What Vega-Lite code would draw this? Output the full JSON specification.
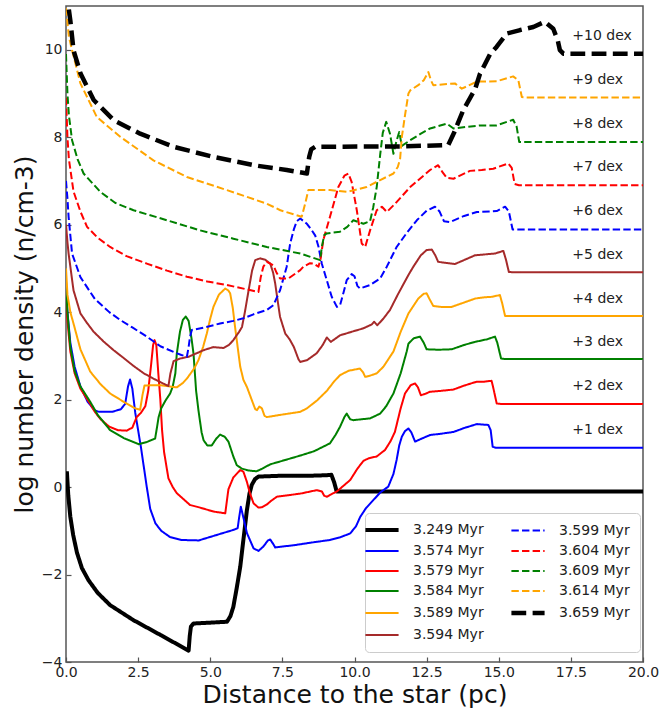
{
  "$schema": "https://vega.github.io/schema/vega-lite/v6.json",
  "autosize": {"type": "none"},
  "width": 577,
  "height": 656,
  "padding": {"left": 66, "top": 6, "right": 18, "bottom": 50},
  "background": "white",
  "config": {
    "view": {"stroke": "#555", "strokeWidth": 1.5},
    "font": "DejaVu Sans",
    "axis": {
      "domain": false,
      "grid": false,
      "tickSize": -5,
      "tickColor": "#555",
      "tickWidth": 1.2,
      "labelFlush": false,
      "labelFont": "DejaVu Sans",
      "labelFontSize": 14,
      "labelColor": "#222",
      "titleFont": "DejaVu Sans",
      "titleFontSize": 25,
      "titleFontWeight": "normal",
      "titleColor": "#111"
    },
    "legend": {
      "labelFont": "DejaVu Sans",
      "labelFontSize": 14,
      "labelColor": "#222"
    }
  },
  "datasets": {
    "profiles": [
      {"series": "3.249 Myr", "x": 0.03, "y": 0.36}, {"series": "3.249 Myr", "x": 0.08, "y": -0.2}, {"series": "3.249 Myr", "x": 0.15, "y": -0.68}, {"series": "3.249 Myr", "x": 0.25, "y": -1.1}, {"series": "3.249 Myr", "x": 0.38, "y": -1.5}, {"series": "3.249 Myr", "x": 0.55, "y": -1.85}, {"series": "3.249 Myr", "x": 0.78, "y": -2.13}, {"series": "3.249 Myr", "x": 1.1, "y": -2.42}, {"series": "3.249 Myr", "x": 1.53, "y": -2.7}, {"series": "3.249 Myr", "x": 2.33, "y": -3.04}, {"series": "3.249 Myr", "x": 3.27, "y": -3.38}, {"series": "3.249 Myr", "x": 4.25, "y": -3.74}, {"series": "3.249 Myr", "x": 4.29, "y": -3.4}, {"series": "3.249 Myr", "x": 4.33, "y": -3.19}, {"series": "3.249 Myr", "x": 4.42, "y": -3.12}, {"series": "3.249 Myr", "x": 5.0, "y": -3.1}, {"series": "3.249 Myr", "x": 5.58, "y": -3.08}, {"series": "3.249 Myr", "x": 5.7, "y": -2.95}, {"series": "3.249 Myr", "x": 5.8, "y": -2.74}, {"series": "3.249 Myr", "x": 5.92, "y": -2.3}, {"series": "3.249 Myr", "x": 6.04, "y": -1.82}, {"series": "3.249 Myr", "x": 6.15, "y": -1.2}, {"series": "3.249 Myr", "x": 6.27, "y": -0.53}, {"series": "3.249 Myr", "x": 6.36, "y": -0.15}, {"series": "3.249 Myr", "x": 6.44, "y": 0.05}, {"series": "3.249 Myr", "x": 6.55, "y": 0.18}, {"series": "3.249 Myr", "x": 6.67, "y": 0.24}, {"series": "3.249 Myr", "x": 7.5, "y": 0.26}, {"series": "3.249 Myr", "x": 8.5, "y": 0.26}, {"series": "3.249 Myr", "x": 9.0, "y": 0.27}, {"series": "3.249 Myr", "x": 9.2, "y": 0.28}, {"series": "3.249 Myr", "x": 9.3, "y": 0.1}, {"series": "3.249 Myr", "x": 9.38, "y": -0.1}, {"series": "3.249 Myr", "x": 20, "y": -0.1},

      {"series": "3.574 Myr", "x": 0.0, "y": 4.6}, {"series": "3.574 Myr", "x": 0.05, "y": 4.0}, {"series": "3.574 Myr", "x": 0.15, "y": 3.3}, {"series": "3.574 Myr", "x": 0.3, "y": 2.75}, {"series": "3.574 Myr", "x": 0.5, "y": 2.3}, {"series": "3.574 Myr", "x": 0.75, "y": 1.95}, {"series": "3.574 Myr", "x": 1.0, "y": 1.75}, {"series": "3.574 Myr", "x": 1.15, "y": 1.72}, {"series": "3.574 Myr", "x": 1.6, "y": 1.72}, {"series": "3.574 Myr", "x": 1.9, "y": 1.78}, {"series": "3.574 Myr", "x": 2.05, "y": 1.9}, {"series": "3.574 Myr", "x": 2.15, "y": 2.3}, {"series": "3.574 Myr", "x": 2.22, "y": 2.46}, {"series": "3.574 Myr", "x": 2.3, "y": 2.25}, {"series": "3.574 Myr", "x": 2.4, "y": 1.7}, {"series": "3.574 Myr", "x": 2.5, "y": 1.3}, {"series": "3.574 Myr", "x": 2.6, "y": 0.9}, {"series": "3.574 Myr", "x": 2.7, "y": 0.45}, {"series": "3.574 Myr", "x": 2.8, "y": 0.0}, {"series": "3.574 Myr", "x": 2.92, "y": -0.5}, {"series": "3.574 Myr", "x": 3.1, "y": -0.83}, {"series": "3.574 Myr", "x": 3.3, "y": -1.0}, {"series": "3.574 Myr", "x": 3.6, "y": -1.14}, {"series": "3.574 Myr", "x": 4.0, "y": -1.21}, {"series": "3.574 Myr", "x": 4.6, "y": -1.22}, {"series": "3.574 Myr", "x": 5.2, "y": -1.1}, {"series": "3.574 Myr", "x": 5.8, "y": -0.98}, {"series": "3.574 Myr", "x": 5.95, "y": -0.94}, {"series": "3.574 Myr", "x": 6.0, "y": -0.7}, {"series": "3.574 Myr", "x": 6.06, "y": -0.45}, {"series": "3.574 Myr", "x": 6.15, "y": -0.7}, {"series": "3.574 Myr", "x": 6.27, "y": -1.05}, {"series": "3.574 Myr", "x": 6.5, "y": -1.4}, {"series": "3.574 Myr", "x": 6.67, "y": -1.46}, {"series": "3.574 Myr", "x": 6.84, "y": -1.36}, {"series": "3.574 Myr", "x": 7.0, "y": -1.22}, {"series": "3.574 Myr", "x": 7.08, "y": -1.2}, {"series": "3.574 Myr", "x": 7.18, "y": -1.3}, {"series": "3.574 Myr", "x": 7.25, "y": -1.38}, {"series": "3.574 Myr", "x": 7.5, "y": -1.36}, {"series": "3.574 Myr", "x": 7.9, "y": -1.33}, {"series": "3.574 Myr", "x": 8.5, "y": -1.27}, {"series": "3.574 Myr", "x": 9.15, "y": -1.21}, {"series": "3.574 Myr", "x": 9.5, "y": -1.15}, {"series": "3.574 Myr", "x": 9.85, "y": -1.06}, {"series": "3.574 Myr", "x": 10.05, "y": -0.9}, {"series": "3.574 Myr", "x": 10.2, "y": -0.68}, {"series": "3.574 Myr", "x": 10.4, "y": -0.48}, {"series": "3.574 Myr", "x": 10.65, "y": -0.3}, {"series": "3.574 Myr", "x": 10.9, "y": -0.12}, {"series": "3.574 Myr", "x": 11.17, "y": 0.01}, {"series": "3.574 Myr", "x": 11.35, "y": 0.3}, {"series": "3.574 Myr", "x": 11.46, "y": 0.62}, {"series": "3.574 Myr", "x": 11.55, "y": 0.95}, {"series": "3.574 Myr", "x": 11.64, "y": 1.15}, {"series": "3.574 Myr", "x": 11.75, "y": 1.28}, {"series": "3.574 Myr", "x": 11.87, "y": 1.34}, {"series": "3.574 Myr", "x": 11.97, "y": 1.25}, {"series": "3.574 Myr", "x": 12.1, "y": 1.04}, {"series": "3.574 Myr", "x": 12.3, "y": 1.1}, {"series": "3.574 Myr", "x": 12.62, "y": 1.19}, {"series": "3.574 Myr", "x": 13.0, "y": 1.22}, {"series": "3.574 Myr", "x": 13.43, "y": 1.26}, {"series": "3.574 Myr", "x": 13.8, "y": 1.35}, {"series": "3.574 Myr", "x": 14.24, "y": 1.44}, {"series": "3.574 Myr", "x": 14.64, "y": 1.42}, {"series": "3.574 Myr", "x": 14.72, "y": 1.3}, {"series": "3.574 Myr", "x": 14.79, "y": 0.92}, {"series": "3.574 Myr", "x": 14.9, "y": 0.9}, {"series": "3.574 Myr", "x": 20, "y": 0.9},

      {"series": "3.579 Myr", "x": 0.0, "y": 4.4}, {"series": "3.579 Myr", "x": 0.05, "y": 3.8}, {"series": "3.579 Myr", "x": 0.15, "y": 3.1}, {"series": "3.579 Myr", "x": 0.3, "y": 2.6}, {"series": "3.579 Myr", "x": 0.5, "y": 2.25}, {"series": "3.579 Myr", "x": 0.84, "y": 1.9}, {"series": "3.579 Myr", "x": 1.0, "y": 1.72}, {"series": "3.579 Myr", "x": 1.2, "y": 1.55}, {"series": "3.579 Myr", "x": 1.5, "y": 1.38}, {"series": "3.579 Myr", "x": 1.8, "y": 1.3}, {"series": "3.579 Myr", "x": 2.11, "y": 1.29}, {"series": "3.579 Myr", "x": 2.3, "y": 1.36}, {"series": "3.579 Myr", "x": 2.45, "y": 1.6}, {"series": "3.579 Myr", "x": 2.6, "y": 1.7}, {"series": "3.579 Myr", "x": 2.75, "y": 1.85}, {"series": "3.579 Myr", "x": 2.85, "y": 2.2}, {"series": "3.579 Myr", "x": 2.95, "y": 2.8}, {"series": "3.579 Myr", "x": 3.02, "y": 3.25}, {"series": "3.579 Myr", "x": 3.07, "y": 3.36}, {"series": "3.579 Myr", "x": 3.13, "y": 3.25}, {"series": "3.579 Myr", "x": 3.2, "y": 2.6}, {"series": "3.579 Myr", "x": 3.27, "y": 2.0}, {"series": "3.579 Myr", "x": 3.33, "y": 1.3}, {"series": "3.579 Myr", "x": 3.4, "y": 0.8}, {"series": "3.579 Myr", "x": 3.55, "y": 0.2}, {"series": "3.579 Myr", "x": 3.7, "y": 0.0}, {"series": "3.579 Myr", "x": 3.84, "y": -0.14}, {"series": "3.579 Myr", "x": 4.3, "y": -0.41}, {"series": "3.579 Myr", "x": 4.65, "y": -0.47}, {"series": "3.579 Myr", "x": 5.11, "y": -0.56}, {"series": "3.579 Myr", "x": 5.52, "y": -0.6}, {"series": "3.579 Myr", "x": 5.58, "y": -0.3}, {"series": "3.579 Myr", "x": 5.63, "y": -0.05}, {"series": "3.579 Myr", "x": 5.8, "y": 0.22}, {"series": "3.579 Myr", "x": 6.04, "y": 0.39}, {"series": "3.579 Myr", "x": 6.15, "y": 0.35}, {"series": "3.579 Myr", "x": 6.27, "y": 0.12}, {"series": "3.579 Myr", "x": 6.38, "y": -0.15}, {"series": "3.579 Myr", "x": 6.5, "y": -0.37}, {"series": "3.579 Myr", "x": 6.67, "y": -0.47}, {"series": "3.579 Myr", "x": 6.8, "y": -0.46}, {"series": "3.579 Myr", "x": 6.96, "y": -0.4}, {"series": "3.579 Myr", "x": 7.1, "y": -0.32}, {"series": "3.579 Myr", "x": 7.31, "y": -0.22}, {"series": "3.579 Myr", "x": 8.12, "y": -0.15}, {"series": "3.579 Myr", "x": 8.69, "y": -0.07}, {"series": "3.579 Myr", "x": 8.87, "y": -0.1}, {"series": "3.579 Myr", "x": 8.95, "y": -0.2}, {"series": "3.579 Myr", "x": 9.05, "y": -0.22}, {"series": "3.579 Myr", "x": 9.15, "y": -0.18}, {"series": "3.579 Myr", "x": 9.39, "y": -0.1}, {"series": "3.579 Myr", "x": 9.6, "y": 0.02}, {"series": "3.579 Myr", "x": 9.85, "y": 0.16}, {"series": "3.579 Myr", "x": 10.1, "y": 0.42}, {"series": "3.579 Myr", "x": 10.31, "y": 0.6}, {"series": "3.579 Myr", "x": 10.5, "y": 0.66}, {"series": "3.579 Myr", "x": 10.77, "y": 0.7}, {"series": "3.579 Myr", "x": 11.06, "y": 0.85}, {"series": "3.579 Myr", "x": 11.25, "y": 1.05}, {"series": "3.579 Myr", "x": 11.4, "y": 1.26}, {"series": "3.579 Myr", "x": 11.6, "y": 1.8}, {"series": "3.579 Myr", "x": 11.75, "y": 2.14}, {"series": "3.579 Myr", "x": 11.95, "y": 2.33}, {"series": "3.579 Myr", "x": 12.1, "y": 2.37}, {"series": "3.579 Myr", "x": 12.2, "y": 2.28}, {"series": "3.579 Myr", "x": 12.3, "y": 2.1}, {"series": "3.579 Myr", "x": 12.45, "y": 2.13}, {"series": "3.579 Myr", "x": 12.62, "y": 2.18}, {"series": "3.579 Myr", "x": 13.0, "y": 2.2}, {"series": "3.579 Myr", "x": 13.43, "y": 2.23}, {"series": "3.579 Myr", "x": 13.8, "y": 2.32}, {"series": "3.579 Myr", "x": 14.24, "y": 2.41}, {"series": "3.579 Myr", "x": 14.5, "y": 2.41}, {"series": "3.579 Myr", "x": 14.75, "y": 2.43}, {"series": "3.579 Myr", "x": 14.8, "y": 2.3}, {"series": "3.579 Myr", "x": 14.93, "y": 1.91}, {"series": "3.579 Myr", "x": 15.1, "y": 1.9}, {"series": "3.579 Myr", "x": 20, "y": 1.9},

      {"series": "3.584 Myr", "x": 0.0, "y": 4.7}, {"series": "3.584 Myr", "x": 0.05, "y": 4.0}, {"series": "3.584 Myr", "x": 0.15, "y": 3.2}, {"series": "3.584 Myr", "x": 0.3, "y": 2.65}, {"series": "3.584 Myr", "x": 0.5, "y": 2.3}, {"series": "3.584 Myr", "x": 0.84, "y": 1.95}, {"series": "3.584 Myr", "x": 1.1, "y": 1.65}, {"series": "3.584 Myr", "x": 1.53, "y": 1.3}, {"series": "3.584 Myr", "x": 2.0, "y": 1.12}, {"series": "3.584 Myr", "x": 2.52, "y": 0.98}, {"series": "3.584 Myr", "x": 2.8, "y": 1.03}, {"series": "3.584 Myr", "x": 3.09, "y": 1.11}, {"series": "3.584 Myr", "x": 3.15, "y": 1.35}, {"series": "3.584 Myr", "x": 3.21, "y": 1.6}, {"series": "3.584 Myr", "x": 3.3, "y": 1.8}, {"series": "3.584 Myr", "x": 3.45, "y": 1.98}, {"series": "3.584 Myr", "x": 3.61, "y": 2.14}, {"series": "3.584 Myr", "x": 3.7, "y": 2.3}, {"series": "3.584 Myr", "x": 3.79, "y": 2.6}, {"series": "3.584 Myr", "x": 3.84, "y": 3.05}, {"series": "3.584 Myr", "x": 3.95, "y": 3.55}, {"series": "3.584 Myr", "x": 4.05, "y": 3.82}, {"series": "3.584 Myr", "x": 4.15, "y": 3.9}, {"series": "3.584 Myr", "x": 4.25, "y": 3.8}, {"series": "3.584 Myr", "x": 4.35, "y": 3.4}, {"series": "3.584 Myr", "x": 4.42, "y": 3.05}, {"series": "3.584 Myr", "x": 4.51, "y": 2.2}, {"series": "3.584 Myr", "x": 4.59, "y": 1.76}, {"series": "3.584 Myr", "x": 4.7, "y": 1.25}, {"series": "3.584 Myr", "x": 4.77, "y": 1.07}, {"series": "3.584 Myr", "x": 4.9, "y": 0.95}, {"series": "3.584 Myr", "x": 5.05, "y": 0.95}, {"series": "3.584 Myr", "x": 5.2, "y": 1.1}, {"series": "3.584 Myr", "x": 5.34, "y": 1.2}, {"series": "3.584 Myr", "x": 5.5, "y": 1.15}, {"series": "3.584 Myr", "x": 5.63, "y": 1.04}, {"series": "3.584 Myr", "x": 5.8, "y": 0.7}, {"series": "3.584 Myr", "x": 5.92, "y": 0.5}, {"series": "3.584 Myr", "x": 6.1, "y": 0.42}, {"series": "3.584 Myr", "x": 6.33, "y": 0.38}, {"series": "3.584 Myr", "x": 6.6, "y": 0.36}, {"series": "3.584 Myr", "x": 6.8, "y": 0.42}, {"series": "3.584 Myr", "x": 7.08, "y": 0.52}, {"series": "3.584 Myr", "x": 7.5, "y": 0.6}, {"series": "3.584 Myr", "x": 8.12, "y": 0.72}, {"series": "3.584 Myr", "x": 8.6, "y": 0.82}, {"series": "3.584 Myr", "x": 9.15, "y": 1.0}, {"series": "3.584 Myr", "x": 9.35, "y": 1.2}, {"series": "3.584 Myr", "x": 9.5, "y": 1.38}, {"series": "3.584 Myr", "x": 9.65, "y": 1.6}, {"series": "3.584 Myr", "x": 9.73, "y": 1.68}, {"series": "3.584 Myr", "x": 9.85, "y": 1.55}, {"series": "3.584 Myr", "x": 9.95, "y": 1.53}, {"series": "3.584 Myr", "x": 10.54, "y": 1.57}, {"series": "3.584 Myr", "x": 10.89, "y": 1.68}, {"series": "3.584 Myr", "x": 11.1, "y": 1.85}, {"series": "3.584 Myr", "x": 11.35, "y": 2.14}, {"series": "3.584 Myr", "x": 11.6, "y": 2.6}, {"series": "3.584 Myr", "x": 11.81, "y": 3.1}, {"series": "3.584 Myr", "x": 11.87, "y": 3.28}, {"series": "3.584 Myr", "x": 12.05, "y": 3.4}, {"series": "3.584 Myr", "x": 12.27, "y": 3.44}, {"series": "3.584 Myr", "x": 12.4, "y": 3.3}, {"series": "3.584 Myr", "x": 12.5, "y": 3.15}, {"series": "3.584 Myr", "x": 12.9, "y": 3.14}, {"series": "3.584 Myr", "x": 13.37, "y": 3.15}, {"series": "3.584 Myr", "x": 13.8, "y": 3.25}, {"series": "3.584 Myr", "x": 14.18, "y": 3.32}, {"series": "3.584 Myr", "x": 14.6, "y": 3.38}, {"series": "3.584 Myr", "x": 14.87, "y": 3.44}, {"series": "3.584 Myr", "x": 14.95, "y": 3.3}, {"series": "3.584 Myr", "x": 15.08, "y": 2.94}, {"series": "3.584 Myr", "x": 15.2, "y": 2.93}, {"series": "3.584 Myr", "x": 20, "y": 2.93},

      {"series": "3.589 Myr", "x": 0.0, "y": 5.0}, {"series": "3.589 Myr", "x": 0.05, "y": 4.4}, {"series": "3.589 Myr", "x": 0.15, "y": 4.0}, {"series": "3.589 Myr", "x": 0.26, "y": 3.74}, {"series": "3.589 Myr", "x": 0.5, "y": 3.15}, {"series": "3.589 Myr", "x": 0.84, "y": 2.64}, {"series": "3.589 Myr", "x": 1.2, "y": 2.35}, {"series": "3.589 Myr", "x": 1.53, "y": 2.14}, {"series": "3.589 Myr", "x": 2.0, "y": 1.95}, {"series": "3.589 Myr", "x": 2.4, "y": 1.8}, {"series": "3.589 Myr", "x": 2.57, "y": 1.77}, {"series": "3.589 Myr", "x": 2.65, "y": 2.1}, {"series": "3.589 Myr", "x": 2.72, "y": 2.32}, {"series": "3.589 Myr", "x": 3.0, "y": 2.33}, {"series": "3.589 Myr", "x": 3.27, "y": 2.33}, {"series": "3.589 Myr", "x": 3.6, "y": 2.3}, {"series": "3.589 Myr", "x": 3.84, "y": 2.28}, {"series": "3.589 Myr", "x": 4.05, "y": 2.38}, {"series": "3.589 Myr", "x": 4.19, "y": 2.48}, {"series": "3.589 Myr", "x": 4.3, "y": 2.58}, {"series": "3.589 Myr", "x": 4.45, "y": 2.72}, {"series": "3.589 Myr", "x": 4.59, "y": 2.9}, {"series": "3.589 Myr", "x": 4.75, "y": 3.2}, {"series": "3.589 Myr", "x": 4.88, "y": 3.51}, {"series": "3.589 Myr", "x": 5.0, "y": 3.85}, {"series": "3.589 Myr", "x": 5.11, "y": 4.12}, {"series": "3.589 Myr", "x": 5.3, "y": 4.4}, {"series": "3.589 Myr", "x": 5.52, "y": 4.54}, {"series": "3.589 Myr", "x": 5.62, "y": 4.5}, {"series": "3.589 Myr", "x": 5.69, "y": 4.43}, {"series": "3.589 Myr", "x": 5.78, "y": 4.1}, {"series": "3.589 Myr", "x": 5.86, "y": 3.66}, {"series": "3.589 Myr", "x": 5.95, "y": 3.2}, {"series": "3.589 Myr", "x": 6.04, "y": 2.75}, {"series": "3.589 Myr", "x": 6.15, "y": 2.45}, {"series": "3.589 Myr", "x": 6.27, "y": 2.29}, {"series": "3.589 Myr", "x": 6.44, "y": 1.99}, {"series": "3.589 Myr", "x": 6.56, "y": 1.78}, {"series": "3.589 Myr", "x": 6.62, "y": 1.76}, {"series": "3.589 Myr", "x": 6.7, "y": 1.84}, {"series": "3.589 Myr", "x": 6.79, "y": 1.8}, {"series": "3.589 Myr", "x": 6.88, "y": 1.63}, {"series": "3.589 Myr", "x": 6.96, "y": 1.6}, {"series": "3.589 Myr", "x": 7.42, "y": 1.65}, {"series": "3.589 Myr", "x": 8.12, "y": 1.72}, {"series": "3.589 Myr", "x": 8.35, "y": 1.8}, {"series": "3.589 Myr", "x": 8.7, "y": 1.98}, {"series": "3.589 Myr", "x": 9.04, "y": 2.2}, {"series": "3.589 Myr", "x": 9.3, "y": 2.42}, {"series": "3.589 Myr", "x": 9.5, "y": 2.56}, {"series": "3.589 Myr", "x": 9.8, "y": 2.66}, {"series": "3.589 Myr", "x": 10.19, "y": 2.71}, {"series": "3.589 Myr", "x": 10.3, "y": 2.62}, {"series": "3.589 Myr", "x": 10.37, "y": 2.52}, {"series": "3.589 Myr", "x": 10.55, "y": 2.55}, {"series": "3.589 Myr", "x": 10.77, "y": 2.6}, {"series": "3.589 Myr", "x": 11.0, "y": 2.75}, {"series": "3.589 Myr", "x": 11.2, "y": 2.95}, {"series": "3.589 Myr", "x": 11.35, "y": 3.1}, {"series": "3.589 Myr", "x": 11.6, "y": 3.55}, {"series": "3.589 Myr", "x": 11.87, "y": 3.97}, {"series": "3.589 Myr", "x": 12.21, "y": 4.31}, {"series": "3.589 Myr", "x": 12.4, "y": 4.42}, {"series": "3.589 Myr", "x": 12.5, "y": 4.43}, {"series": "3.589 Myr", "x": 12.6, "y": 4.3}, {"series": "3.589 Myr", "x": 12.73, "y": 4.14}, {"series": "3.589 Myr", "x": 13.0, "y": 4.12}, {"series": "3.589 Myr", "x": 13.37, "y": 4.12}, {"series": "3.589 Myr", "x": 13.8, "y": 4.22}, {"series": "3.589 Myr", "x": 14.18, "y": 4.31}, {"series": "3.589 Myr", "x": 14.5, "y": 4.34}, {"series": "3.589 Myr", "x": 14.75, "y": 4.35}, {"series": "3.589 Myr", "x": 15.04, "y": 4.39}, {"series": "3.589 Myr", "x": 15.12, "y": 4.2}, {"series": "3.589 Myr", "x": 15.22, "y": 3.91}, {"series": "3.589 Myr", "x": 15.4, "y": 3.91}, {"series": "3.589 Myr", "x": 20, "y": 3.91},

      {"series": "3.594 Myr", "x": 0.0, "y": 6.0}, {"series": "3.594 Myr", "x": 0.05, "y": 5.6}, {"series": "3.594 Myr", "x": 0.09, "y": 5.34}, {"series": "3.594 Myr", "x": 0.26, "y": 4.5}, {"series": "3.594 Myr", "x": 0.5, "y": 3.97}, {"series": "3.594 Myr", "x": 0.73, "y": 3.75}, {"series": "3.594 Myr", "x": 0.96, "y": 3.55}, {"series": "3.594 Myr", "x": 1.3, "y": 3.33}, {"series": "3.594 Myr", "x": 1.65, "y": 3.13}, {"series": "3.594 Myr", "x": 2.0, "y": 2.95}, {"series": "3.594 Myr", "x": 2.34, "y": 2.77}, {"series": "3.594 Myr", "x": 2.7, "y": 2.6}, {"series": "3.594 Myr", "x": 3.03, "y": 2.48}, {"series": "3.594 Myr", "x": 3.3, "y": 2.39}, {"series": "3.594 Myr", "x": 3.55, "y": 2.31}, {"series": "3.594 Myr", "x": 3.62, "y": 2.6}, {"series": "3.594 Myr", "x": 3.73, "y": 2.88}, {"series": "3.594 Myr", "x": 3.96, "y": 2.94}, {"series": "3.594 Myr", "x": 4.25, "y": 2.98}, {"series": "3.594 Myr", "x": 4.77, "y": 3.13}, {"series": "3.594 Myr", "x": 5.1, "y": 3.2}, {"series": "3.594 Myr", "x": 5.46, "y": 3.18}, {"series": "3.594 Myr", "x": 5.65, "y": 3.25}, {"series": "3.594 Myr", "x": 5.8, "y": 3.36}, {"series": "3.594 Myr", "x": 6.0, "y": 3.55}, {"series": "3.594 Myr", "x": 6.1, "y": 3.66}, {"series": "3.594 Myr", "x": 6.2, "y": 4.0}, {"series": "3.594 Myr", "x": 6.33, "y": 4.5}, {"series": "3.594 Myr", "x": 6.45, "y": 4.95}, {"series": "3.594 Myr", "x": 6.56, "y": 5.19}, {"series": "3.594 Myr", "x": 6.73, "y": 5.23}, {"series": "3.594 Myr", "x": 6.9, "y": 5.2}, {"series": "3.594 Myr", "x": 7.08, "y": 5.11}, {"series": "3.594 Myr", "x": 7.18, "y": 4.9}, {"series": "3.594 Myr", "x": 7.25, "y": 4.66}, {"series": "3.594 Myr", "x": 7.35, "y": 4.2}, {"series": "3.594 Myr", "x": 7.42, "y": 3.89}, {"series": "3.594 Myr", "x": 7.6, "y": 3.51}, {"series": "3.594 Myr", "x": 7.75, "y": 3.38}, {"series": "3.594 Myr", "x": 7.9, "y": 3.2}, {"series": "3.594 Myr", "x": 8.06, "y": 2.92}, {"series": "3.594 Myr", "x": 8.12, "y": 2.86}, {"series": "3.594 Myr", "x": 8.35, "y": 2.9}, {"series": "3.594 Myr", "x": 8.69, "y": 3.06}, {"series": "3.594 Myr", "x": 8.9, "y": 3.25}, {"series": "3.594 Myr", "x": 9.04, "y": 3.42}, {"series": "3.594 Myr", "x": 9.18, "y": 3.32}, {"series": "3.594 Myr", "x": 9.5, "y": 3.47}, {"series": "3.594 Myr", "x": 9.9, "y": 3.55}, {"series": "3.594 Myr", "x": 10.31, "y": 3.63}, {"series": "3.594 Myr", "x": 10.6, "y": 3.72}, {"series": "3.594 Myr", "x": 10.68, "y": 3.78}, {"series": "3.594 Myr", "x": 10.79, "y": 3.7}, {"series": "3.594 Myr", "x": 11.0, "y": 3.85}, {"series": "3.594 Myr", "x": 11.23, "y": 4.05}, {"series": "3.594 Myr", "x": 11.5, "y": 4.4}, {"series": "3.594 Myr", "x": 11.87, "y": 4.85}, {"series": "3.594 Myr", "x": 12.04, "y": 5.04}, {"series": "3.594 Myr", "x": 12.3, "y": 5.3}, {"series": "3.594 Myr", "x": 12.5, "y": 5.42}, {"series": "3.594 Myr", "x": 12.68, "y": 5.43}, {"series": "3.594 Myr", "x": 12.8, "y": 5.3}, {"series": "3.594 Myr", "x": 12.9, "y": 5.15}, {"series": "3.594 Myr", "x": 13.48, "y": 5.1}, {"series": "3.594 Myr", "x": 14.18, "y": 5.3}, {"series": "3.594 Myr", "x": 14.87, "y": 5.34}, {"series": "3.594 Myr", "x": 15.16, "y": 5.4}, {"series": "3.594 Myr", "x": 15.25, "y": 5.2}, {"series": "3.594 Myr", "x": 15.35, "y": 4.92}, {"series": "3.594 Myr", "x": 15.5, "y": 4.91}, {"series": "3.594 Myr", "x": 20, "y": 4.91},

      {"series": "3.599 Myr", "x": 0.0, "y": 7.0}, {"series": "3.599 Myr", "x": 0.05, "y": 6.6}, {"series": "3.599 Myr", "x": 0.09, "y": 6.18}, {"series": "3.599 Myr", "x": 0.21, "y": 5.34}, {"series": "3.599 Myr", "x": 0.5, "y": 4.8}, {"series": "3.599 Myr", "x": 1.0, "y": 4.3}, {"series": "3.599 Myr", "x": 1.5, "y": 4.0}, {"series": "3.599 Myr", "x": 1.88, "y": 3.82}, {"series": "3.599 Myr", "x": 2.3, "y": 3.65}, {"series": "3.599 Myr", "x": 2.8, "y": 3.44}, {"series": "3.599 Myr", "x": 3.27, "y": 3.22}, {"series": "3.599 Myr", "x": 3.73, "y": 3.09}, {"series": "3.599 Myr", "x": 4.0, "y": 3.02}, {"series": "3.599 Myr", "x": 4.19, "y": 2.98}, {"series": "3.599 Myr", "x": 4.25, "y": 3.2}, {"series": "3.599 Myr", "x": 4.3, "y": 3.44}, {"series": "3.599 Myr", "x": 4.36, "y": 3.59}, {"series": "3.599 Myr", "x": 4.8, "y": 3.65}, {"series": "3.599 Myr", "x": 5.34, "y": 3.74}, {"series": "3.599 Myr", "x": 5.8, "y": 3.8}, {"series": "3.599 Myr", "x": 6.15, "y": 3.86}, {"series": "3.599 Myr", "x": 6.5, "y": 3.95}, {"series": "3.599 Myr", "x": 6.96, "y": 4.05}, {"series": "3.599 Myr", "x": 7.19, "y": 4.16}, {"series": "3.599 Myr", "x": 7.42, "y": 4.5}, {"series": "3.599 Myr", "x": 7.65, "y": 5.04}, {"series": "3.599 Myr", "x": 7.77, "y": 5.57}, {"series": "3.599 Myr", "x": 7.9, "y": 5.9}, {"series": "3.599 Myr", "x": 8.0, "y": 6.08}, {"series": "3.599 Myr", "x": 8.12, "y": 6.14}, {"series": "3.599 Myr", "x": 8.35, "y": 6.02}, {"series": "3.599 Myr", "x": 8.52, "y": 5.87}, {"series": "3.599 Myr", "x": 8.64, "y": 5.75}, {"series": "3.599 Myr", "x": 8.75, "y": 5.5}, {"series": "3.599 Myr", "x": 8.87, "y": 5.1}, {"series": "3.599 Myr", "x": 9.04, "y": 4.73}, {"series": "3.599 Myr", "x": 9.21, "y": 4.35}, {"series": "3.599 Myr", "x": 9.39, "y": 4.12}, {"series": "3.599 Myr", "x": 9.5, "y": 4.16}, {"series": "3.599 Myr", "x": 9.62, "y": 4.45}, {"series": "3.599 Myr", "x": 9.73, "y": 4.73}, {"series": "3.599 Myr", "x": 9.9, "y": 4.87}, {"series": "3.599 Myr", "x": 10.0, "y": 4.82}, {"series": "3.599 Myr", "x": 10.1, "y": 4.6}, {"series": "3.599 Myr", "x": 10.19, "y": 4.54}, {"series": "3.599 Myr", "x": 10.54, "y": 4.62}, {"series": "3.599 Myr", "x": 10.89, "y": 4.77}, {"series": "3.599 Myr", "x": 11.12, "y": 5.04}, {"series": "3.599 Myr", "x": 11.46, "y": 5.49}, {"series": "3.599 Myr", "x": 11.8, "y": 5.8}, {"series": "3.599 Myr", "x": 12.16, "y": 6.1}, {"series": "3.599 Myr", "x": 12.5, "y": 6.32}, {"series": "3.599 Myr", "x": 12.79, "y": 6.41}, {"series": "3.599 Myr", "x": 12.95, "y": 6.3}, {"series": "3.599 Myr", "x": 13.1, "y": 6.08}, {"series": "3.599 Myr", "x": 13.31, "y": 6.06}, {"series": "3.599 Myr", "x": 13.8, "y": 6.2}, {"series": "3.599 Myr", "x": 14.24, "y": 6.29}, {"series": "3.599 Myr", "x": 14.93, "y": 6.31}, {"series": "3.599 Myr", "x": 15.22, "y": 6.41}, {"series": "3.599 Myr", "x": 15.35, "y": 6.3}, {"series": "3.599 Myr", "x": 15.48, "y": 5.89}, {"series": "3.599 Myr", "x": 15.6, "y": 5.89}, {"series": "3.599 Myr", "x": 20, "y": 5.89},

      {"series": "3.604 Myr", "x": 0.0, "y": 8.9}, {"series": "3.604 Myr", "x": 0.05, "y": 8.0}, {"series": "3.604 Myr", "x": 0.1, "y": 7.5}, {"series": "3.604 Myr", "x": 0.26, "y": 6.76}, {"series": "3.604 Myr", "x": 0.5, "y": 6.3}, {"series": "3.604 Myr", "x": 0.73, "y": 5.95}, {"series": "3.604 Myr", "x": 1.1, "y": 5.7}, {"series": "3.604 Myr", "x": 1.53, "y": 5.49}, {"series": "3.604 Myr", "x": 2.1, "y": 5.28}, {"series": "3.604 Myr", "x": 2.8, "y": 5.11}, {"series": "3.604 Myr", "x": 3.5, "y": 4.95}, {"series": "3.604 Myr", "x": 4.19, "y": 4.81}, {"series": "3.604 Myr", "x": 4.9, "y": 4.7}, {"series": "3.604 Myr", "x": 5.58, "y": 4.62}, {"series": "3.604 Myr", "x": 6.2, "y": 4.53}, {"series": "3.604 Myr", "x": 6.67, "y": 4.46}, {"series": "3.604 Myr", "x": 6.75, "y": 4.8}, {"series": "3.604 Myr", "x": 6.84, "y": 5.04}, {"series": "3.604 Myr", "x": 6.96, "y": 5.15}, {"series": "3.604 Myr", "x": 7.19, "y": 5.07}, {"series": "3.604 Myr", "x": 7.3, "y": 4.9}, {"series": "3.604 Myr", "x": 7.42, "y": 4.77}, {"series": "3.604 Myr", "x": 7.71, "y": 4.77}, {"series": "3.604 Myr", "x": 8.12, "y": 4.96}, {"series": "3.604 Myr", "x": 8.23, "y": 5.04}, {"series": "3.604 Myr", "x": 8.46, "y": 5.12}, {"series": "3.604 Myr", "x": 8.58, "y": 5.11}, {"series": "3.604 Myr", "x": 8.75, "y": 5.04}, {"series": "3.604 Myr", "x": 8.82, "y": 5.2}, {"series": "3.604 Myr", "x": 8.92, "y": 5.65}, {"series": "3.604 Myr", "x": 9.15, "y": 6.18}, {"series": "3.604 Myr", "x": 9.44, "y": 6.86}, {"series": "3.604 Myr", "x": 9.65, "y": 7.12}, {"series": "3.604 Myr", "x": 9.79, "y": 7.17}, {"series": "3.604 Myr", "x": 9.9, "y": 6.98}, {"series": "3.604 Myr", "x": 10.08, "y": 6.33}, {"series": "3.604 Myr", "x": 10.25, "y": 5.57}, {"series": "3.604 Myr", "x": 10.37, "y": 5.49}, {"series": "3.604 Myr", "x": 10.54, "y": 5.87}, {"series": "3.604 Myr", "x": 10.77, "y": 6.33}, {"series": "3.604 Myr", "x": 10.95, "y": 6.41}, {"series": "3.604 Myr", "x": 11.12, "y": 6.29}, {"series": "3.604 Myr", "x": 11.41, "y": 6.48}, {"series": "3.604 Myr", "x": 11.93, "y": 6.86}, {"series": "3.604 Myr", "x": 12.62, "y": 7.25}, {"series": "3.604 Myr", "x": 12.9, "y": 7.36}, {"series": "3.604 Myr", "x": 13.05, "y": 7.2}, {"series": "3.604 Myr", "x": 13.2, "y": 7.07}, {"series": "3.604 Myr", "x": 13.43, "y": 7.05}, {"series": "3.604 Myr", "x": 14.0, "y": 7.23}, {"series": "3.604 Myr", "x": 14.41, "y": 7.25}, {"series": "3.604 Myr", "x": 14.81, "y": 7.28}, {"series": "3.604 Myr", "x": 15.33, "y": 7.4}, {"series": "3.604 Myr", "x": 15.45, "y": 7.3}, {"series": "3.604 Myr", "x": 15.55, "y": 6.93}, {"series": "3.604 Myr", "x": 15.7, "y": 6.9}, {"series": "3.604 Myr", "x": 20, "y": 6.9},

      {"series": "3.609 Myr", "x": 0.0, "y": 9.9}, {"series": "3.609 Myr", "x": 0.05, "y": 9.0}, {"series": "3.609 Myr", "x": 0.1, "y": 8.5}, {"series": "3.609 Myr", "x": 0.21, "y": 7.93}, {"series": "3.609 Myr", "x": 0.4, "y": 7.5}, {"series": "3.609 Myr", "x": 0.61, "y": 7.17}, {"series": "3.609 Myr", "x": 1.19, "y": 6.75}, {"series": "3.609 Myr", "x": 1.7, "y": 6.5}, {"series": "3.609 Myr", "x": 2.34, "y": 6.33}, {"series": "3.609 Myr", "x": 3.5, "y": 6.1}, {"series": "3.609 Myr", "x": 4.65, "y": 5.87}, {"series": "3.609 Myr", "x": 5.8, "y": 5.68}, {"series": "3.609 Myr", "x": 6.96, "y": 5.49}, {"series": "3.609 Myr", "x": 8.12, "y": 5.34}, {"series": "3.609 Myr", "x": 8.81, "y": 5.19}, {"series": "3.609 Myr", "x": 8.87, "y": 5.5}, {"series": "3.609 Myr", "x": 8.95, "y": 5.76}, {"series": "3.609 Myr", "x": 9.04, "y": 5.8}, {"series": "3.609 Myr", "x": 9.5, "y": 5.84}, {"series": "3.609 Myr", "x": 9.75, "y": 5.95}, {"series": "3.609 Myr", "x": 9.96, "y": 6.1}, {"series": "3.609 Myr", "x": 10.31, "y": 6.02}, {"series": "3.609 Myr", "x": 10.54, "y": 6.08}, {"series": "3.609 Myr", "x": 10.65, "y": 6.4}, {"series": "3.609 Myr", "x": 10.77, "y": 6.86}, {"series": "3.609 Myr", "x": 10.89, "y": 7.6}, {"series": "3.609 Myr", "x": 10.98, "y": 8.1}, {"series": "3.609 Myr", "x": 11.1, "y": 8.35}, {"series": "3.609 Myr", "x": 11.23, "y": 8.08}, {"series": "3.609 Myr", "x": 11.35, "y": 7.62}, {"series": "3.609 Myr", "x": 11.45, "y": 7.9}, {"series": "3.609 Myr", "x": 11.55, "y": 8.12}, {"series": "3.609 Myr", "x": 11.64, "y": 7.8}, {"series": "3.609 Myr", "x": 11.93, "y": 7.93}, {"series": "3.609 Myr", "x": 12.3, "y": 8.08}, {"series": "3.609 Myr", "x": 12.62, "y": 8.2}, {"series": "3.609 Myr", "x": 13.2, "y": 8.31}, {"series": "3.609 Myr", "x": 13.43, "y": 8.2}, {"series": "3.609 Myr", "x": 14.35, "y": 8.27}, {"series": "3.609 Myr", "x": 14.93, "y": 8.27}, {"series": "3.609 Myr", "x": 15.5, "y": 8.4}, {"series": "3.609 Myr", "x": 15.62, "y": 8.24}, {"series": "3.609 Myr", "x": 15.71, "y": 7.89}, {"series": "3.609 Myr", "x": 15.85, "y": 7.89}, {"series": "3.609 Myr", "x": 20, "y": 7.89},

      {"series": "3.614 Myr", "x": 0.0, "y": 10.95}, {"series": "3.614 Myr", "x": 0.1, "y": 10.3}, {"series": "3.614 Myr", "x": 0.21, "y": 9.99}, {"series": "3.614 Myr", "x": 0.5, "y": 9.23}, {"series": "3.614 Myr", "x": 1.07, "y": 8.46}, {"series": "3.614 Myr", "x": 1.88, "y": 8.01}, {"series": "3.614 Myr", "x": 3.03, "y": 7.47}, {"series": "3.614 Myr", "x": 4.19, "y": 7.09}, {"series": "3.614 Myr", "x": 5.58, "y": 6.79}, {"series": "3.614 Myr", "x": 6.96, "y": 6.48}, {"series": "3.614 Myr", "x": 7.43, "y": 6.33}, {"series": "3.614 Myr", "x": 8.17, "y": 6.18}, {"series": "3.614 Myr", "x": 8.29, "y": 6.48}, {"series": "3.614 Myr", "x": 8.4, "y": 6.79}, {"series": "3.614 Myr", "x": 9.15, "y": 6.79}, {"series": "3.614 Myr", "x": 9.73, "y": 6.75}, {"series": "3.614 Myr", "x": 10.42, "y": 6.86}, {"series": "3.614 Myr", "x": 10.89, "y": 7.02}, {"series": "3.614 Myr", "x": 11.35, "y": 7.17}, {"series": "3.614 Myr", "x": 11.5, "y": 7.32}, {"series": "3.614 Myr", "x": 11.58, "y": 7.5}, {"series": "3.614 Myr", "x": 11.64, "y": 8.0}, {"series": "3.614 Myr", "x": 11.75, "y": 8.5}, {"series": "3.614 Myr", "x": 11.87, "y": 9.0}, {"series": "3.614 Myr", "x": 11.93, "y": 9.07}, {"series": "3.614 Myr", "x": 12.21, "y": 9.19}, {"series": "3.614 Myr", "x": 12.4, "y": 9.3}, {"series": "3.614 Myr", "x": 12.56, "y": 9.49}, {"series": "3.614 Myr", "x": 12.65, "y": 9.3}, {"series": "3.614 Myr", "x": 12.73, "y": 9.19}, {"series": "3.614 Myr", "x": 13.48, "y": 9.23}, {"series": "3.614 Myr", "x": 13.72, "y": 9.11}, {"series": "3.614 Myr", "x": 14.24, "y": 9.27}, {"series": "3.614 Myr", "x": 14.93, "y": 9.28}, {"series": "3.614 Myr", "x": 15.5, "y": 9.39}, {"series": "3.614 Myr", "x": 15.68, "y": 9.3}, {"series": "3.614 Myr", "x": 15.8, "y": 8.92}, {"series": "3.614 Myr", "x": 15.95, "y": 8.91}, {"series": "3.614 Myr", "x": 20, "y": 8.91},

      {"series": "3.659 Myr", "x": 0.0, "y": 11.4}, {"series": "3.659 Myr", "x": 0.15, "y": 10.67}, {"series": "3.659 Myr", "x": 0.26, "y": 9.99}, {"series": "3.659 Myr", "x": 0.5, "y": 9.46}, {"series": "3.659 Myr", "x": 0.96, "y": 8.85}, {"series": "3.659 Myr", "x": 1.65, "y": 8.39}, {"series": "3.659 Myr", "x": 2.57, "y": 8.08}, {"series": "3.659 Myr", "x": 3.73, "y": 7.78}, {"series": "3.659 Myr", "x": 5.11, "y": 7.55}, {"series": "3.659 Myr", "x": 6.5, "y": 7.36}, {"series": "3.659 Myr", "x": 7.65, "y": 7.25}, {"series": "3.659 Myr", "x": 8.35, "y": 7.17}, {"series": "3.659 Myr", "x": 8.43, "y": 7.55}, {"series": "3.659 Myr", "x": 8.5, "y": 7.72}, {"series": "3.659 Myr", "x": 8.64, "y": 7.78}, {"series": "3.659 Myr", "x": 11.64, "y": 7.79}, {"series": "3.659 Myr", "x": 13.25, "y": 7.82}, {"series": "3.659 Myr", "x": 13.45, "y": 8.1}, {"series": "3.659 Myr", "x": 13.77, "y": 8.62}, {"series": "3.659 Myr", "x": 14.18, "y": 9.1}, {"series": "3.659 Myr", "x": 14.35, "y": 9.45}, {"series": "3.659 Myr", "x": 14.7, "y": 9.9}, {"series": "3.659 Myr", "x": 14.93, "y": 10.07}, {"series": "3.659 Myr", "x": 15.28, "y": 10.37}, {"series": "3.659 Myr", "x": 15.74, "y": 10.45}, {"series": "3.659 Myr", "x": 16.2, "y": 10.52}, {"series": "3.659 Myr", "x": 16.6, "y": 10.64}, {"series": "3.659 Myr", "x": 16.89, "y": 10.48}, {"series": "3.659 Myr", "x": 17.05, "y": 10.2}, {"series": "3.659 Myr", "x": 17.12, "y": 9.99}, {"series": "3.659 Myr", "x": 17.24, "y": 9.91}, {"series": "3.659 Myr", "x": 20, "y": 9.91}
    ],
    "offsets": [
      {"label": "+10 dex", "dex": 10}, {"label": "+9 dex", "dex": 9}, {"label": "+8 dex", "dex": 8},
      {"label": "+7 dex", "dex": 7}, {"label": "+6 dex", "dex": 6}, {"label": "+5 dex", "dex": 5},
      {"label": "+4 dex", "dex": 4}, {"label": "+3 dex", "dex": 3}, {"label": "+2 dex", "dex": 2},
      {"label": "+1 dex", "dex": 1}
    ]
  },
  "layer": [
    {
      "data": {"name": "profiles"},
      "mark": {"type": "line", "clip": true, "strokeCap": "butt", "strokeJoin": "round"},
      "encoding": {
        "x": {
          "field": "x", "type": "quantitative",
          "scale": {"domain": [0, 20], "nice": false, "zero": false},
          "axis": {"values": [0, 2.5, 5, 7.5, 10, 12.5, 15, 17.5, 20], "format": ".1f", "labelPadding": 8, "title": "Distance to the star (pc)", "titlePadding": 3}
        },
        "y": {
          "field": "y", "type": "quantitative",
          "scale": {"domain": [-4, 11], "nice": false, "zero": false},
          "axis": {"values": [-4, -2, 0, 2, 4, 6, 8, 10], "format": "d", "labelPadding": 9, "title": "log number density (n/cm-3)", "titlePadding": 4}
        },
        "color": {
          "field": "series", "type": "nominal",
          "scale": {
            "domain": ["3.249 Myr", "3.574 Myr", "3.579 Myr", "3.584 Myr", "3.589 Myr", "3.594 Myr", "3.599 Myr", "3.604 Myr", "3.609 Myr", "3.614 Myr", "3.659 Myr"],
            "range": ["#000000", "#0000ff", "#ff0000", "#008000", "#ffa500", "#a52a2a", "#0000ff", "#ff0000", "#008000", "#ffa500", "#000000"]
          },
          "legend": {
            "title": null,
            "orient": "none",
            "legendX": 299,
            "legendY": 507,
            "columns": 2,
            "symbolType": "stroke",
            "symbolSize": 1100,
            "labelOffset": 24,
            "columnPadding": 18,
            "rowPadding": 6,
            "padding": 10,
            "fillColor": "white",
            "strokeColor": "#cccccc",
            "cornerRadius": 4,
            "encode": {
              "symbols": {
                "update": {
                  "strokeWidth": {"signal": "datum.value === '3.659 Myr' ? 4.5 : datum.value === '3.249 Myr' ? 4 : 2"}
                }
              }
            }
          }
        },
        "strokeDash": {
          "field": "series", "type": "nominal",
          "scale": {
            "domain": ["3.249 Myr", "3.574 Myr", "3.579 Myr", "3.584 Myr", "3.589 Myr", "3.594 Myr", "3.599 Myr", "3.604 Myr", "3.609 Myr", "3.614 Myr", "3.659 Myr"],
            "range": [[1, 0], [1, 0], [1, 0], [1, 0], [1, 0], [1, 0], [7.4, 3.2], [7.4, 3.2], [7.4, 3.2], [7.4, 3.2], [14.8, 6.4]]
          },
          "legend": null
        },
        "strokeWidth": {
          "condition": [
            {"test": "datum.series === '3.659 Myr'", "value": 4.5},
            {"test": "datum.series === '3.249 Myr'", "value": 4}
          ],
          "value": 2
        }
      }
    },
    {
      "data": {"name": "offsets"},
      "mark": {"type": "text", "align": "left", "baseline": "middle", "fontSize": 14, "font": "DejaVu Sans", "color": "#222"},
      "encoding": {
        "x": {"datum": 17.55, "type": "quantitative"},
        "y": {"field": "dex", "type": "quantitative"},
        "yOffset": {"value": -13.6},
        "text": {"field": "label"}
      }
    }
  ]
}
